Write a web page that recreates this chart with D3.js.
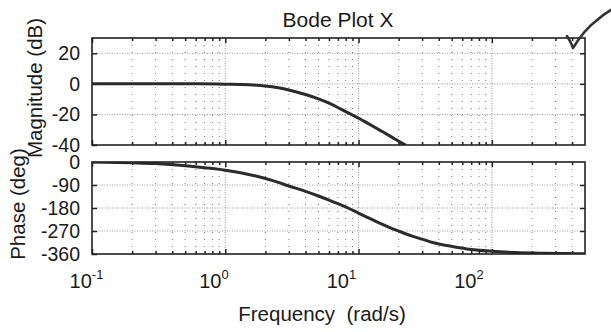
<!DOCTYPE html>
<html>
<head>
<meta charset="utf-8">
<script src="https://cdn.jsdelivr.net/npm/d3@7"></script>
<style>
  body { margin: 0; background: #fff; }
  svg { font-family: "Liberation Sans", Arial, sans-serif; }
</style>
</head>
<body>
<div id="chart"></div>
<script>
// magnitude
const magFreq = [0.1, 0.3, 0.65, 1, 1.5, 2, 2.5, 3, 4, 5, 6, 7.25, 8.5, 10.2, 12, 14.5, 17.5, 21, 22.5];
const magDb   = [0, 0, 0, -0.2, -0.6, -1.4, -2.6, -4, -7, -9.8, -12.6, -16.2, -19.3, -22.8, -26.3, -30.4, -34.5, -38.6, -40.1];

// phase
const phaseFreq = [0.1, 0.2, 0.3, 0.55, 1, 1.3, 1.7, 2.3, 3, 4, 5, 6, 7, 8.5, 10, 12, 14.4, 17, 20.4, 25, 30, 36.5, 48.5, 65, 100, 150, 250, 500];
const phaseDeg  = [0, -3, -6, -17, -32, -42, -55, -74, -94, -115, -133, -149, -163, -182, -200, -220, -239, -256, -272, -289, -302, -316, -329, -340, -349, -354, -357, -359];

const xMajor = [0.1, 1, 10, 100];
const xMinor = [0.2,0.3,0.4,0.5,0.6,0.7,0.8,0.9, 2,3,4,5,6,7,8,9, 20,30,40,50,60,70,80,90, 200,300,400];
const xTickExp = ["-1", "0", "1", "2"];
const magTicks = [20, 0, -20, -40];
const phaseTicks = [0, -90, -180, -270, -360];

const W = 611, H = 332;
const left = 92, right = 585;

const svg = d3.select("#chart").append("svg").attr("width", W).attr("height", H);

const x = d3.scaleLog().domain([0.1, 500]).range([left, right]);
// labels in the scan sit a little off the ticks
const xLabel = d3.scaleLog().domain([0.1, 100]).range([86.5, 469]);

const panels = [
  { top: 38, bottom: 145, domain: [-40, 30], ticks: magTicks, freq: magFreq, vals: magDb, id: "mag" },
  { top: 162, bottom: 254, domain: [-360, 0], ticks: phaseTicks, freq: phaseFreq, vals: phaseDeg, id: "ph" }
];

panels.forEach(p => {
  const y = d3.scaleLinear().domain(p.domain).range([p.bottom, p.top]);
  const g = svg.append("g");

  // minor grid (sparse dots)
  g.selectAll(".minor").data(xMinor).enter().append("line")
    .attr("x1", d => x(d)).attr("x2", d => x(d))
    .attr("y1", p.top).attr("y2", p.bottom)
    .attr("stroke", "#777").attr("stroke-width", 1).attr("stroke-dasharray", "1,6");

  // major grid
  g.selectAll(".vmaj").data(xMajor.slice(1)).enter().append("line")
    .attr("x1", d => x(d)).attr("x2", d => x(d))
    .attr("y1", p.top).attr("y2", p.bottom)
    .attr("stroke", "#999").attr("stroke-width", 1).attr("stroke-dasharray", "1,1.5");
  const inner = p.ticks.filter(t => t > p.domain[0] && t < p.domain[1]);
  g.selectAll(".hmaj").data(inner).enter().append("line")
    .attr("x1", left).attr("x2", right)
    .attr("y1", d => y(d)).attr("y2", d => y(d))
    .attr("stroke", "#999").attr("stroke-width", 1).attr("stroke-dasharray", "1,1.5");

  // ticks
  const tickStyle = sel => {
    sel.select(".domain").remove();
    sel.selectAll("line").attr("stroke", "#222").attr("stroke-width", 1.5);
  };
  g.append("g").attr("transform", `translate(0,${p.bottom})`)
    .call(d3.axisBottom(x).tickValues(xMajor).tickSize(-5).tickFormat("")).call(tickStyle);
  g.append("g").attr("transform", `translate(0,${p.bottom})`)
    .call(d3.axisBottom(x).tickValues(xMinor).tickSize(-3).tickFormat("")).call(tickStyle);
  g.append("g").attr("transform", `translate(0,${p.top})`)
    .call(d3.axisTop(x).tickValues(xMajor).tickSize(-5).tickFormat("")).call(tickStyle);
  g.append("g").attr("transform", `translate(0,${p.top})`)
    .call(d3.axisTop(x).tickValues(xMinor).tickSize(-3).tickFormat("")).call(tickStyle);

  const yl = g.append("g").attr("transform", `translate(${left},0)`)
    .call(d3.axisLeft(y).tickValues(p.ticks).tickSize(-5).tickPadding(12).tickFormat(d => String(d)))
    .call(tickStyle);
  yl.selectAll("text").attr("font-size", 19.5).attr("fill", "#1a1a1a")
    .attr("font-family", "Liberation Sans, Arial, sans-serif");
  g.append("g").attr("transform", `translate(${right},0)`)
    .call(d3.axisRight(y).tickValues(inner).tickSize(-5).tickFormat("")).call(tickStyle);

  // curve
  g.append("clipPath").attr("id", "clip-" + p.id).append("rect")
    .attr("x", left).attr("y", p.top).attr("width", right - left).attr("height", p.bottom - p.top);
  const line = d3.line().curve(d3.curveMonotoneX)
    .x((d, i) => x(p.freq[i])).y(d => y(d));
  g.append("path").datum(p.vals)
    .attr("clip-path", `url(#clip-${p.id})`)
    .attr("d", line).attr("fill", "none")
    .attr("stroke", "#2b2b2b").attr("stroke-width", 3);

  // frame
  g.append("rect").attr("x", left).attr("y", p.top)
    .attr("width", right - left).attr("height", p.bottom - p.top)
    .attr("fill", "none").attr("stroke", "#222").attr("stroke-width", 1.6);
});

// x tick labels 10^n
const xl = svg.append("g");
xMajor.forEach((v, i) => {
  const t = xl.append("text").attr("x", xLabel(v)).attr("y", 288)
    .attr("text-anchor", "middle").attr("fill", "#1a1a1a").attr("font-size", 20);
  t.append("tspan").text("10");
  t.append("tspan").attr("font-size", 13).attr("dy", -9).text(xTickExp[i]);
});

// titles
svg.append("text").attr("x", 338).attr("y", 27).attr("text-anchor", "middle")
  .attr("font-size", 21).attr("fill", "#1a1a1a").text("Bode Plot X");
svg.append("text").attr("x", 322).attr("y", 321).attr("text-anchor", "middle")
  .attr("font-size", 20.5).attr("fill", "#1a1a1a").text("Frequency\u00a0\u00a0(rad/s)");
svg.append("text").attr("transform", "translate(42,88) rotate(-90)").attr("text-anchor", "middle")
  .attr("font-size", 20.5).attr("fill", "#1a1a1a").text("Magnitude (dB)");
svg.append("text").attr("transform", "translate(25,204) rotate(-90)").attr("text-anchor", "middle")
  .attr("font-size", 20.5).attr("fill", "#1a1a1a").text("Phase (deg)");

// hand-drawn check mark
svg.append("path")
  .attr("d", "M567,36 Q571,42 573,48 Q584,30 596,21 Q604,14 611,10")
  .attr("fill", "none").attr("stroke", "#333").attr("stroke-width", 2.6)
  .attr("stroke-linecap", "round").attr("stroke-linejoin", "round");
</script>
</body>
</html>
